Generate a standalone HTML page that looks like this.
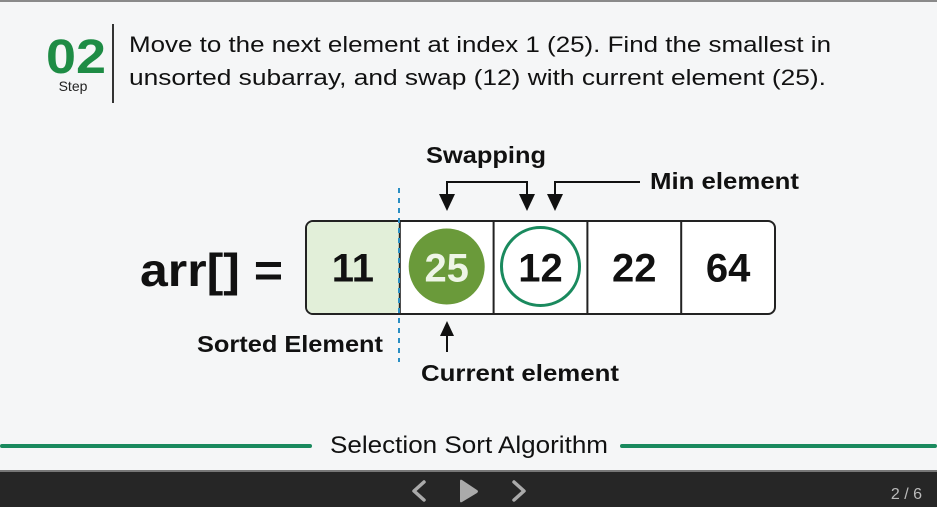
<!DOCTYPE html>
<html><head><meta charset="utf-8"><style>
html,body{margin:0;padding:0;background:#f5f6f7;}
svg{display:block;font-family:"Liberation Sans",sans-serif;}
</style></head><body>
<svg id="s" width="937" height="507" viewBox="0 0 937 507">
<rect x="0" y="0" width="937" height="507" fill="#f5f6f7"/>
<rect x="0" y="0" width="937" height="2" fill="#8a8a8a"/>
<text x="46" y="73" font-size="48" font-weight="bold" fill="#1e8c45" textLength="60" lengthAdjust="spacingAndGlyphs">02</text>
<text x="73" y="91" font-size="14" fill="#222" text-anchor="middle">Step</text>
<rect x="112" y="24" width="2" height="79" fill="#333"/>
<text x="129" y="52" font-size="22" fill="#111" textLength="702" lengthAdjust="spacingAndGlyphs">Move to the next element at index 1 (25). Find the smallest in</text>
<text x="129" y="85" font-size="22" fill="#111" textLength="697" lengthAdjust="spacingAndGlyphs">unsorted subarray, and swap (12) with current element (25).</text>

<text x="140" y="286" font-size="46" font-weight="bold" fill="#111" textLength="143" lengthAdjust="spacingAndGlyphs">arr[] =</text>
<g id="cells"></g>
<line x1="399" y1="188" x2="399" y2="362" stroke="#2a8fc4" stroke-width="2" stroke-dasharray="5,5"/>

<text x="486" y="163" font-size="23" font-weight="bold" fill="#111" text-anchor="middle" textLength="120" lengthAdjust="spacingAndGlyphs">Swapping</text>
<path d="M447 198 V182 H527 V198" fill="none" stroke="#111" stroke-width="2"/>
<polygon points="439,194 455,194 447,211" fill="#111"/>
<polygon points="519,194 535,194 527,211" fill="#111"/>
<path d="M640 182 H555 V198" fill="none" stroke="#111" stroke-width="2"/>
<polygon points="547,194 563,194 555,211" fill="#111"/>
<text x="650" y="189" font-size="23" font-weight="bold" fill="#111" textLength="149" lengthAdjust="spacingAndGlyphs">Min element</text>

<line x1="447" y1="352" x2="447" y2="332" stroke="#111" stroke-width="2"/>
<polygon points="440,336 454,336 447,321" fill="#111"/>
<text x="520" y="381" font-size="23" font-weight="bold" fill="#111" text-anchor="middle" textLength="198" lengthAdjust="spacingAndGlyphs">Current element</text>
<text x="383" y="352" font-size="23" font-weight="bold" fill="#111" text-anchor="end" textLength="186" lengthAdjust="spacingAndGlyphs">Sorted Element</text>

<rect x="0" y="444" width="312" height="4" rx="2" fill="#1a8a5e"/>
<rect x="620" y="444" width="317" height="4" rx="2" fill="#1a8a5e"/>
<text x="469" y="453" font-size="24" fill="#111" text-anchor="middle" textLength="278" lengthAdjust="spacingAndGlyphs">Selection Sort Algorithm</text>

<rect x="0" y="470" width="937" height="37" fill="#262626"/>
<rect x="0" y="470" width="937" height="2" fill="#777"/>
<path d="M424 482 L414 491 L424 500" fill="none" stroke="#aaa" stroke-width="3.5" stroke-linecap="round" stroke-linejoin="round"/>
<path d="M460 481 L460 501 Q460 503 462 502 L477 493 Q479 491 477 490 L462 480 Q460 479 460 481 Z" fill="#aaa"/>
<path d="M514 482 L524 491 L514 500" fill="none" stroke="#aaa" stroke-width="3.5" stroke-linecap="round" stroke-linejoin="round"/>
<text x="922" y="499" font-size="16" fill="#bbb" text-anchor="end">2 / 6</text>
</svg>
<script>
const values = [11, 25, 12, 22, 64];
const sortedCount = 1;
const currentIndex = 1;
const minIndex = 2;

const NS = 'http://www.w3.org/2000/svg';
const g = document.getElementById('cells');
const x0 = 306, y0 = 221, cw = 93.8, ch = 93;
function cx(i){ return x0 + i * cw; }
function mk(tag, attrs){ const e = document.createElementNS(NS, tag); for (const k in attrs) e.setAttribute(k, attrs[k]); return e; }

const outer = mk('rect', {x: x0, y: y0, width: cw * values.length, height: ch, rx: 7, fill: '#ffffff', stroke: '#222', 'stroke-width': 2});


g.appendChild(outer);

values.forEach((v, i) => {
  if (i < sortedCount) {
    const r = mk('rect', {x: cx(i) + 1, y: y0 + 1, width: cw - 1, height: ch - 2, rx: 6, fill: '#e2efd9'});
    
    
    g.appendChild(r);
  }
  if (i > 0) {
    const l = mk('line', {x1: cx(i), y1: y0, x2: cx(i), y2: y0 + ch, stroke: '#222', 'stroke-width': 2});
    
    
    g.appendChild(l);
  }
  const mx = cx(i) + cw / 2, my = y0 + ch / 2;
  let color = '#111';
  if (i === currentIndex) {
    const c = mk('circle', {cx: mx, cy: my - 1, r: 38, fill: '#6a9a3a'});
    
    
    g.appendChild(c);
    color = '#eef5e6';
  } else if (i === minIndex) {
    const c = mk('circle', {cx: mx, cy: my - 1, r: 39, fill: 'none', stroke: '#1a8a5e', 'stroke-width': 3});
    
    
    g.appendChild(c);
  }
  const t = mk('text', {x: mx, y: my + 14, 'font-size': 40, 'font-weight': 'bold', fill: color, 'text-anchor': 'middle'});
  t.textContent = v;
  
  
  g.appendChild(t);
});
</script>
</body></html>
